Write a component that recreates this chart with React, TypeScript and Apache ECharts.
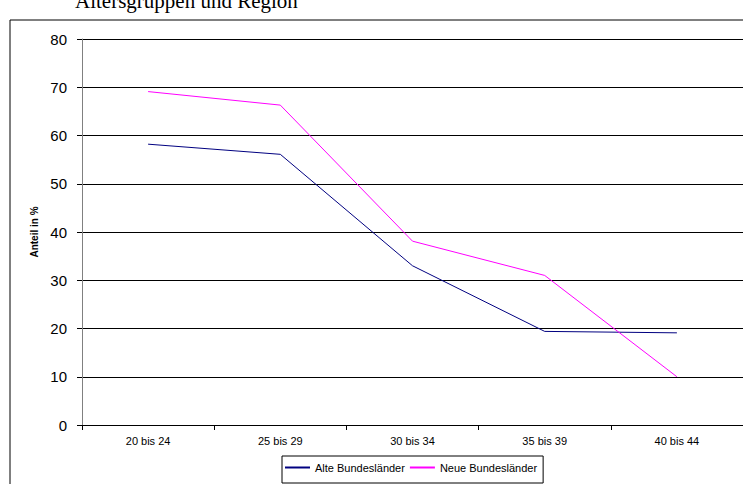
import React, { useEffect, useRef } from "react";
import * as echarts from "echarts";

const categories = ["20 bis 24", "25 bis 29", "30 bis 34", "35 bis 39", "40 bis 44"];
const alteValues = [58.2, 56.1, 33.0, 19.4, 19.1];
const neueValues = [69.1, 66.3, 38.1, 31.0, 10.0];
const seriesNames = ["Alte Bundesländer", "Neue Bundesländer"];
const titleText = "Altersgruppen und Region";
const yAxisName = "Anteil in %";

export default function App() {
  const ref = useRef<HTMLDivElement>(null);
  useEffect(() => {
    if (!ref.current) return;
    const chart = echarts.init(ref.current, null, { renderer: "svg" });
    chart.setOption({
      animation: false,
      backgroundColor: "#fff",
      graphic: [
        {
          type: "rect",
          shape: { x: 10, y: 20, width: 800, height: 600 },
          style: { fill: "none", stroke: "#000", lineWidth: 1 },
          silent: true,
        },
        {
          type: "text",
          x: 75,
          y: 11,
          style: {
            text: titleText,
            font: "21px 'Liberation Serif', 'Times New Roman', serif",
            fill: "#000",
            verticalAlign: "bottom",
          },
        },
      ],
      grid: { left: 82, top: 39, width: 665, bottom: 59, containLabel: false },
      legend: {
        data: seriesNames,
        left: 282,
        top: 456,
        orient: "horizontal",
        icon: "rect",
        itemWidth: 25,
        itemHeight: 2,
        itemGap: 5,
        borderColor: "#000",
        borderWidth: 1,
        borderRadius: 0,
        padding: [6, 6, 10, 3],
        textStyle: { fontFamily: "Liberation Sans, Arial", fontSize: 11, color: "#000" },
      },
      xAxis: {
        type: "category",
        data: categories,
        boundaryGap: true,
        axisLine: { lineStyle: { color: "#000", width: 1 } },
        axisTick: { show: true, length: 5, inside: false, lineStyle: { color: "#000" } },
        axisLabel: { fontFamily: "Liberation Sans, Arial", fontSize: 11, color: "#000", margin: 10 },
      },
      yAxis: {
        type: "value",
        min: 0,
        max: 80,
        interval: 10,
        name: yAxisName,
        nameLocation: "middle",
        nameGap: 42,
        nameTextStyle: { fontFamily: "Liberation Sans, Arial", fontSize: 10, fontWeight: "bold", color: "#000" },
        axisLine: { show: true, lineStyle: { color: "#808080", width: 1 } },
        axisTick: { show: true, length: 5, lineStyle: { color: "#000" } },
        axisLabel: { fontFamily: "Liberation Sans, Arial", fontSize: 15, color: "#000", margin: 15 },
        splitLine: { show: true, lineStyle: { color: "#000", width: 1 } },
      },
      series: [
        {
          name: seriesNames[0],
          type: "line",
          data: alteValues,
          showSymbol: false,
          symbol: "none",
          lineStyle: { color: "#000080", width: 1 },
          itemStyle: { color: "#000080" },
        },
        {
          name: seriesNames[1],
          type: "line",
          data: neueValues,
          showSymbol: false,
          symbol: "none",
          lineStyle: { color: "#FF00FF", width: 1 },
          itemStyle: { color: "#FF00FF" },
        },
      ],
    });
    return () => chart.dispose();
  }, []);
  return (
    <div
      ref={ref}
      style={{ position: "fixed", left: 0, top: 0, width: 743, height: 484 }}
    />
  );
}
